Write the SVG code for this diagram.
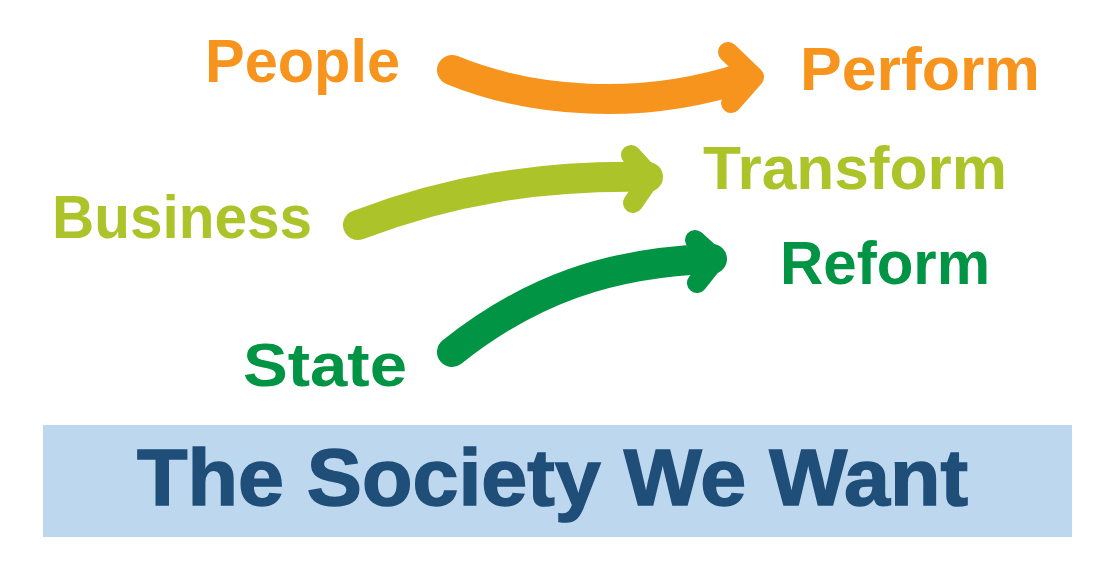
<svg xmlns="http://www.w3.org/2000/svg" width="1118" height="574" viewBox="0 0 1118 574">
<style>
.lbl{font-family:"Liberation Sans",Arial,sans-serif;font-weight:bold;font-size:62px}
.o{fill:#f7941d}.o2{stroke:#f7941d}
.g{fill:#acc42a}.g2{stroke:#acc42a}
.d{fill:#009444}.d2{stroke:#009444}
.shaft{fill:none;stroke-width:30;stroke-linecap:round;stroke-linejoin:round}
.head{fill:none;stroke-width:20;stroke-linecap:round;stroke-linejoin:round}
.title{font-family:"Liberation Sans",Arial,sans-serif;font-weight:bold;font-size:80px;fill:#1f4e79;stroke:#1f4e79;stroke-width:1.5}
</style>
<rect width="1118" height="574" fill="#ffffff"/>
<g id="people"><text class="lbl o" x="205" y="82" textLength="195" lengthAdjust="spacingAndGlyphs">People</text></g>
<g id="perform"><text class="lbl o" x="800" y="90" textLength="240" lengthAdjust="spacingAndGlyphs">Perform</text></g>
<g id="business"><text class="lbl g" x="52" y="238" textLength="260" lengthAdjust="spacingAndGlyphs">Business</text></g>
<g id="transform"><text class="lbl g" x="703" y="189" textLength="304" lengthAdjust="spacingAndGlyphs">Transform</text></g>
<g id="state"><text class="lbl d" x="243" y="386" textLength="164" lengthAdjust="spacingAndGlyphs">State</text></g>
<g id="reform"><text class="lbl d" x="780" y="284" textLength="210" lengthAdjust="spacingAndGlyphs">Reform</text></g>
<g id="connectors">
<path class="shaft o2" d="M452,70 C530,102 640,112 745,77"/>
<path class="head o2" d="M728,52 L754,77 L731,103"/>
<path class="shaft g2" d="M358,225 C450,190 540,175 648,177"/>
<path class="head g2" d="M631,155 L651,177 L633,203"/>
<path class="shaft d2" d="M452,352 C530,290 610,262 712,259"/>
<path class="head d2" d="M695,240 L716,259 L697,283"/>
</g>
<g id="title">
<rect x="43" y="425" width="1029" height="112" fill="#bdd7ee"/>
<text class="title" x="137" y="505" textLength="831" lengthAdjust="spacingAndGlyphs">The Society We Want</text>
</g>
</svg>
